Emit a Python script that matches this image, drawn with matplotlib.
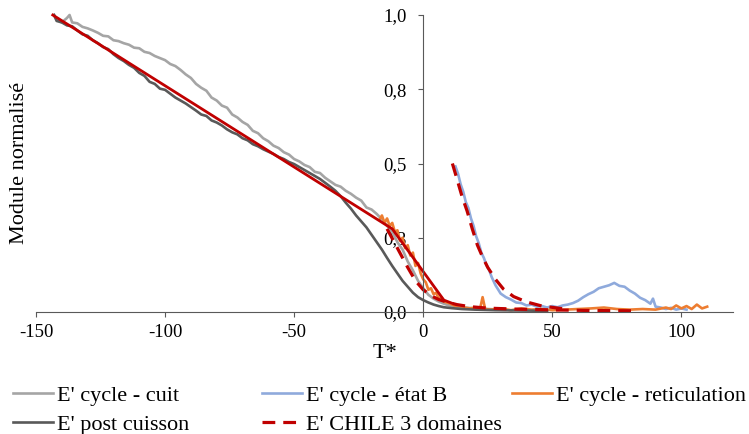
import matplotlib
matplotlib.use('Agg')
import matplotlib.pyplot as plt

plt.rcParams['font.family'] = ['Liberation Serif', 'DejaVu Serif']
plt.rcParams['axes.unicode_minus'] = False

# E' cycle - cuit (light gray)
cuit_t = [-143, -142, -140, -138, -137, -136, -134, -132, -130, -128,
          -126, -124, -122, -120, -118, -116, -114, -112, -110, -108,
          -106, -104, -102, -100, -98, -96, -94, -92, -90, -88,
          -86, -84, -82, -80, -78, -76, -74, -72, -70, -68,
          -66, -64, -62, -60, -58, -56, -54, -52, -50, -48,
          -46, -44, -42, -40, -38, -36, -34, -32, -30, -28,
          -26, -24, -22, -20, -18, -16, -14, -12, -10, -8,
          -6, -4, -2, 0, 2, 4, 6, 8, 10, 13,
          16, 20, 25, 30]
cuit_v = [1.0, 0.985, 0.975, 0.99, 1.0, 0.975, 0.972, 0.96, 0.955, 0.948,
          0.94, 0.93, 0.928, 0.915, 0.912, 0.905, 0.9, 0.89, 0.888, 0.876,
          0.872, 0.862, 0.855, 0.848, 0.835, 0.828, 0.815, 0.8, 0.788, 0.768,
          0.755, 0.745, 0.722, 0.712, 0.695, 0.688, 0.665, 0.655, 0.64, 0.63,
          0.61, 0.602, 0.585, 0.575, 0.56, 0.552, 0.538, 0.53, 0.515, 0.507,
          0.495, 0.488, 0.472, 0.468, 0.452, 0.44, 0.428, 0.422, 0.408, 0.398,
          0.385, 0.375, 0.352, 0.345, 0.33, 0.312, 0.29, 0.27, 0.235, 0.21,
          0.17, 0.14, 0.105, 0.08, 0.058, 0.045, 0.035, 0.028, 0.022, 0.018,
          0.015, 0.012, 0.01, 0.008]

# E' post cuisson (dark gray)
post_t = [-143, -142, -140, -138, -136, -134, -132, -130, -128, -126,
          -124, -122, -120, -118, -116, -114, -112, -110, -108, -106,
          -104, -102, -100, -98, -96, -94, -92, -90, -88, -86,
          -84, -82, -80, -78, -76, -74, -72, -70, -68, -66,
          -64, -62, -60, -58, -56, -54, -52, -50, -48, -46,
          -44, -42, -40, -38, -36, -34, -32, -30, -28, -26,
          -24, -22, -20, -18, -16, -14, -12, -10, -8, -6,
          -4, -2, 0, 2, 4, 6, 8, 11, 15, 20,
          28, 38, 48]
post_v = [1.0, 0.98, 0.975, 0.965, 0.962, 0.948, 0.935, 0.93, 0.915, 0.905,
          0.892, 0.885, 0.868, 0.855, 0.845, 0.832, 0.822, 0.805, 0.795, 0.775,
          0.768, 0.752, 0.748, 0.735, 0.722, 0.712, 0.702, 0.69, 0.678, 0.665,
          0.66, 0.645, 0.638, 0.628, 0.615, 0.605, 0.598, 0.585, 0.578, 0.565,
          0.558, 0.548, 0.54, 0.532, 0.522, 0.515, 0.505, 0.498, 0.488, 0.478,
          0.468, 0.458, 0.448, 0.435, 0.422, 0.408, 0.39, 0.368, 0.348, 0.325,
          0.305, 0.285, 0.26, 0.235, 0.21, 0.182, 0.155, 0.13, 0.105, 0.085,
          0.065, 0.05, 0.04, 0.032, 0.025, 0.02, 0.016, 0.013, 0.01, 0.008,
          0.006, 0.005, 0.004]

# E' cycle - etat B (blue)
etatb_t = [12.5, 13.5, 14.5, 15.5, 16.5, 17.5, 18.5, 19.5, 20.5, 21.5,
           22.5, 23.5, 24.5, 25.5, 26.5, 28, 30, 32, 34, 36,
           38, 40, 42, 44, 46, 48, 50, 52, 54, 56,
           58, 60, 62, 64, 66, 68, 70, 72, 74, 76,
           78, 80, 82, 84, 86, 88, 89, 90, 92, 94,
           96, 98, 100, 102]
etatb_v = [0.49, 0.465, 0.43, 0.405, 0.37, 0.35, 0.315, 0.29, 0.255, 0.232,
           0.2, 0.182, 0.158, 0.142, 0.118, 0.09, 0.062, 0.05, 0.042, 0.032,
           0.03, 0.022, 0.025, 0.018, 0.02, 0.015, 0.02, 0.016, 0.022, 0.025,
           0.03, 0.038, 0.05, 0.06, 0.068, 0.08, 0.085, 0.09, 0.098, 0.088,
           0.085, 0.072, 0.062, 0.048, 0.04, 0.028, 0.045, 0.018, 0.015, 0.01,
           0.014, 0.008, 0.012, 0.008]

# E' cycle - reticulation (orange)
retic_t = [-17, -16, -15, -14, -13, -12, -11, -10, -9, -8,
           -7, -6, -5, -4, -3, -2, -1, 0, 1, 2,
           3, 4, 5, 6, 7, 8, 10, 12, 14, 16,
           18, 20, 22, 23, 24, 26, 30, 34, 38, 40,
           42, 46, 50, 55, 60, 65, 70, 75, 80, 85,
           90, 94, 96, 98, 100, 102, 104, 106, 108, 110]
retic_v = [0.31, 0.325, 0.3, 0.315, 0.29, 0.3, 0.27, 0.275, 0.24, 0.25,
           0.215, 0.225, 0.19, 0.2, 0.155, 0.165, 0.13, 0.11, 0.1, 0.075,
           0.08, 0.06, 0.065, 0.045, 0.05, 0.035, 0.03, 0.022, 0.02, 0.015,
           0.012, 0.015, 0.01, 0.05, 0.01, 0.008, 0.012, 0.006, 0.012, 0.01,
           0.008, 0.01, 0.006, 0.008, 0.01, 0.012, 0.015, 0.01, 0.008, 0.01,
           0.008, 0.015, 0.01, 0.022, 0.012, 0.02, 0.01, 0.025, 0.012, 0.018]

# E' CHILE 3 domaines (red dashed, two pieces)
chile1_t = [-14, -10, -6, -3, 0, 3, 6, 9, 13, 18, 25, 35, 50, 65, 82]
chile1_v = [0.28, 0.215, 0.15, 0.105, 0.075, 0.055, 0.042, 0.034, 0.025,
            0.018, 0.013, 0.01, 0.007, 0.005, 0.004]
chile2_t = [11.3, 13, 15, 17, 19, 21, 23, 25, 28, 31, 35, 40, 46, 55]
chile2_v = [0.5, 0.45, 0.39, 0.34, 0.28, 0.225, 0.185, 0.15, 0.11, 0.078,
            0.052, 0.034, 0.02, 0.01]

# red solid fit (not in legend)
fit_t = [-143.5, -12, 8, 11]
fit_v = [1.0, 0.28, 0.04, 0.03]

fig = plt.figure(figsize=(7.49, 4.34), dpi=100)
ax = fig.add_axes([36 / 749, 122 / 434, 697 / 749, 297 / 434])

l_cuit, = ax.plot(cuit_t, cuit_v, color='#A5A5A5', lw=1.9, label="E' cycle - cuit", clip_on=False)
l_b, = ax.plot(etatb_t, etatb_v, color='#8FAADC', lw=1.9, label="E' cycle - état B", clip_on=False)
l_ret, = ax.plot(retic_t, retic_v, color='#ED7D31', lw=1.9, label="E' cycle - reticulation", clip_on=False)
l_post, = ax.plot(post_t, post_v, color='#595959', lw=1.9, label="E' post cuisson", clip_on=False)
l_ch, = ax.plot(chile1_t, chile1_v, color='#C00000', lw=2.3, dashes=(4, 2.5),
                label="E' CHILE 3 domaines", clip_on=False)
ax.plot(chile2_t, chile2_v, color='#C00000', lw=2.3, dashes=(4, 2.5), clip_on=False)
ax.plot(fit_t, fit_v, color='#C00000', lw=2.0, clip_on=False)

ax.set_xlim(-150, 120)
ax.set_ylim(0, 1)
ax.spines['top'].set_visible(False)
ax.spines['right'].set_visible(False)
ax.spines['left'].set_position(('data', 0))
for s in ['left', 'bottom']:
    ax.spines[s].set_color('#595959')
    ax.spines[s].set_linewidth(0.8)

ax.set_xticks([-150, -100, -50, 0, 50, 100])
ax.set_yticks([0, 0.25, 0.5, 0.75, 1.0])
ax.set_yticklabels(['0,0', '0,3', '0,5', '0,8', '1,0'])
ax.tick_params(direction='out', length=3.6, width=0.8, color='#595959', labelsize=13.5)
ax.tick_params(axis='y', pad=8)
ax.tick_params(axis='x', pad=5)
ax.set_xlabel('T*', fontsize=16, labelpad=2)
fig.text(20 / 749, 1 - 163 / 434, 'Module normalisé', rotation=90,
         ha='center', va='center', fontsize=16)

leg_kw = dict(loc='upper left', frameon=False, fontsize=16, handlelength=1.8,
              handletextpad=0.2, labelspacing=0.38, borderpad=0, borderaxespad=0)
fig.legend(handles=[l_cuit, l_post], bbox_to_anchor=(13 / 749, 1 - 385 / 434), **leg_kw)
fig.legend(handles=[l_b, l_ch], bbox_to_anchor=(262 / 749, 1 - 385 / 434), **leg_kw)
fig.legend(handles=[l_ret], bbox_to_anchor=(512 / 749, 1 - 385 / 434), **leg_kw)

fig.savefig('out.png', dpi=100)
